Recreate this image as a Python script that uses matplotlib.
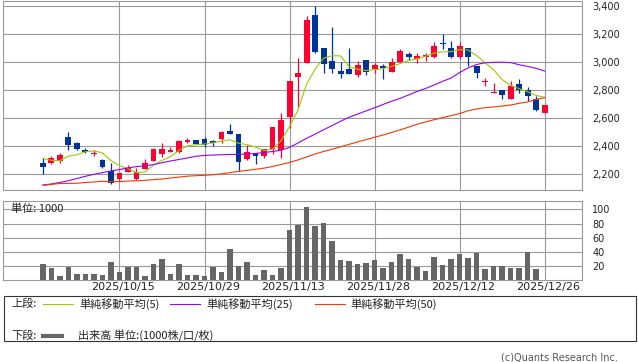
import matplotlib
matplotlib.use("Agg")
import matplotlib.pyplot as plt
import matplotlib.transforms as mtransforms
from matplotlib.patches import Rectangle
from matplotlib.lines import Line2D
import numpy as np

# daily candles, 2025/10/01 .. 2025/12/26
opens = [2279, 2282, 2291, 2464, 2421, 2371, 2345, 2300, 2224, 2164,
         2214, 2164, 2238, 2295, 2343, 2359, 2359, 2431, 2443, 2450,
         2434, 2448, 2507, 2486, 2305, 2350, 2331, 2376, 2374, 2609,
         2893, 2991, 3336, 3100, 3007, 2936, 2950, 2907, 3012, 2950,
         2971, 2931, 3000, 3057, 3019, 3034, 3036, 3138, 3098, 3038,
         3098, 2974, 2857, 2779, 2800, 2738, 2841, 2800, 2733, 2638]
highs = [2314, 2329, 2352, 2498, 2431, 2386, 2371, 2307, 2281, 2208,
         2266, 2241, 2305, 2382, 2419, 2393, 2443, 2457, 2445, 2464,
         2443, 2507, 2557, 2486, 2405, 2350, 2376, 2538, 2634, 2864,
         3029, 3331, 3402, 3100, 3252, 3002, 3098, 3007, 3012, 2991,
         2988, 3031, 3093, 3074, 3067, 3062, 3145, 3202, 3152, 3145,
         3098, 2974, 2883, 2848, 2800, 2864, 2879, 2819, 2757, 2693]
lows = [2200, 2275, 2276, 2371, 2371, 2348, 2331, 2245, 2129, 2160,
        2212, 2157, 2236, 2292, 2324, 2355, 2352, 2424, 2412, 2393,
        2402, 2419, 2488, 2221, 2302, 2274, 2316, 2343, 2312, 2526,
        2681, 2991, 3062, 2924, 2924, 2888, 2917, 2895, 2907, 2924,
        2879, 2931, 3000, 3014, 2991, 3009, 3031, 3091, 3031, 3021,
        2974, 2888, 2829, 2776, 2734, 2738, 2776, 2724, 2652, 2638]
closes = [2250, 2318, 2334, 2409, 2381, 2355, 2352, 2252, 2138, 2205,
          2241, 2214, 2279, 2379, 2379, 2371, 2436, 2443, 2414, 2405,
          2419, 2500, 2488, 2288, 2357, 2331, 2376, 2538, 2586, 2864,
          2921, 3300, 3069, 2983, 2950, 2917, 2917, 2979, 2931, 2979,
          2957, 3000, 3079, 3036, 3043, 3048, 3114, 3126, 3038, 3114,
          3038, 2919, 2867, 2788, 2764, 2829, 2800, 2760, 2657, 2693]

ma5 = [2312, 2298, 2295, 2328, 2338, 2359, 2366, 2350, 2296, 2260,
       2238, 2210, 2215, 2264, 2298, 2324, 2369, 2402, 2409, 2414,
       2423, 2436, 2445, 2420, 2410, 2393, 2368, 2378, 2438, 2539,
       2657, 2842, 2948, 3027, 3045, 3044, 2967, 2949, 2939, 2945,
       2953, 2969, 2989, 3010, 3023, 3041, 3064, 3073, 3074, 3088,
       3086, 3047, 2995, 2945, 2875, 2833, 2810, 2788, 2762, 2748]
ma25 = [2122, 2129, 2140, 2153, 2168, 2184, 2198, 2210, 2222, 2232,
        2244, 2253, 2259, 2267, 2281, 2293, 2304, 2315, 2327, 2333,
        2336, 2338, 2340, 2341, 2343, 2347, 2354, 2361, 2370, 2390,
        2422, 2455, 2485, 2516, 2546, 2577, 2606, 2628, 2651, 2673,
        2697, 2720, 2740, 2765, 2790, 2811, 2836, 2862, 2886, 2925,
        2958, 2982, 2995, 2998, 2999, 2996, 2981, 2969, 2955, 2936]
ma50 = [2119, 2126, 2133, 2133, 2134, 2140, 2143, 2148, 2146, 2146,
        2150, 2152, 2155, 2160, 2164, 2172, 2178, 2185, 2188, 2191,
        2195, 2201, 2210, 2219, 2226, 2234, 2242, 2254, 2268, 2283,
        2301, 2322, 2343, 2361, 2377, 2394, 2412, 2429, 2446, 2462,
        2479, 2497, 2515, 2535, 2556, 2572, 2588, 2603, 2617, 2632,
        2652, 2665, 2674, 2679, 2686, 2693, 2705, 2715, 2733, 2745]

# volume in 1000s (no bar on the last day)
volume = [22.7, 17.5, 5.7, 19, 8.5, 8.5, 8.5, 7, 25.5, 11.3,
          19, 19, 5.7, 22.7, 29.8, 8.5, 22.7, 7, 7, 5.7,
          19, 11.3, 44, 19.9, 25.5, 7, 14.2, 7, 17.5, 71.4,
          78, 103.5, 76.6, 80.9, 55.3, 28.4, 27, 22.7, 24.1, 28.4,
          17.5, 25.5, 36.9, 29.8, 19, 12.8, 32.6, 21.3, 29.8, 36.9,
          31.2, 38.3, 15.6, 19.9, 19.9, 17, 17, 39.7, 15.6]

date_ticks = [9, 19, 29, 39, 49, 59]
date_labels = ["2025/10/15", "2025/10/29", "2025/11/13",
               "2025/11/28", "2025/12/12", "2025/12/26"]
price_ticks = [2200, 2400, 2600, 2800, 3000, 3200, 3400]
vol_ticks = [20, 40, 60, 80, 100]

UP = "#ff0033"
DOWN = "#003399"
GRID = "#999999"
JP = ["Noto Sans CJK JP", "DejaVu Sans"]

W, H = 638, 362
fig = plt.figure(figsize=(W / 100, H / 100), dpi=100)


def box(x0, y0, x1, y1):
    # pixel box (from top-left) -> figure fraction rect
    return [x0 / W, 1 - y1 / H, (x1 - x0) / W, (y1 - y0) / H]


ax = fig.add_axes(box(3, 1, 582, 190))
axv = fig.add_axes(box(3, 201, 582, 280))

x = np.arange(len(closes))
o = np.array(opens)
c = np.array(closes)
colors = [UP if cc >= oo else DOWN for oo, cc in zip(o, c)]

# candles
ax.vlines(x, lows, highs, colors=colors, linewidth=0.9, zorder=3)
body = np.maximum(np.abs(c - o), 3)
ax.bar(x, body, bottom=np.minimum(o, c), width=0.7, color=colors,
       linewidth=0, zorder=3)

ax.plot(x, ma5, color="#99cc00", linewidth=0.8, zorder=4)
ax.plot(x, ma25, color="#9900ff", linewidth=0.8, zorder=4)
ax.plot(x, ma50, color="#ff3300", linewidth=0.8, zorder=5)

axv.bar(np.arange(len(volume)), volume, width=0.67, color="#666666",
        linewidth=0, zorder=3)

for a in (ax, axv):
    a.set_xlim(-4.7, 63.4)
    a.set_xticks(date_ticks)
    a.grid(True, color=GRID, linewidth=0.8, zorder=0)
    a.set_axisbelow(True)
    for s in a.spines.values():
        s.set_color(GRID)
        s.set_linewidth(0.8)
    a.yaxis.tick_right()
    a.tick_params(axis="y", length=0, pad=7.5, labelsize=7, labelcolor="#222222")
    a.tick_params(axis="x", length=0)

ax.set_ylim(2086, 3436)
ax.set_yticks(price_ticks)
ax.set_yticklabels([f"{v:,}" for v in price_ticks])
ax.set_xticklabels([])

axv.set_ylim(0, 112)
axv.set_yticks(vol_ticks)
axv.set_xticklabels(date_labels)
axv.tick_params(axis="x", pad=1.5, labelsize=8, labelcolor="#222222")
shift = mtransforms.ScaledTranslation(3.5 / 100, 0, fig.dpi_scale_trans)
for lab in axv.get_xticklabels():
    lab.set_transform(lab.get_transform() + shift)

axv.text(8 / 579, 1 - 8 / 79, "単位: 1000", transform=axv.transAxes,
         fontsize=8, family=JP, va="center", ha="left", color="#222222")

# legend box at the bottom
fig.add_artist(Rectangle((4 / W, 1 - 341 / H), 632 / W, 45 / H,
                         transform=fig.transFigure, fill=False,
                         edgecolor="#333333", linewidth=0.8))


def ftext(px, py, s, **kw):
    fig.text(px / W, 1 - py / H, s, va="center", ha="left", color="#222222", **kw)


def fline(x0, x1, py, color, lw):
    fig.add_artist(Line2D([x0 / W, x1 / W], [1 - py / H] * 2,
                          transform=fig.transFigure, color=color, linewidth=lw))


row1, row2 = 304, 336
ftext(11, row1, "上段:", fontsize=8, family=JP)
fline(43, 73, row1, "#99cc00", 0.8)
ftext(79, row1, "単純移動平均(5)", fontsize=8, family=JP)
fline(170, 200, row1, "#9900ff", 0.8)
ftext(206, row1, "単純移動平均(25)", fontsize=8, family=JP)
fline(315, 345, row1, "#ff3300", 0.8)
ftext(350, row1, "単純移動平均(50)", fontsize=8, family=JP)

ftext(11, row2, "下段:", fontsize=8, family=JP)
fline(43, 62, row2, "#666666", 3)
ftext(78, row2, "出来高 単位:(1000株/口/枚)", fontsize=8, family=JP)

fig.text(618 / W, 1 - 357 / H, "(c)Quants Research Inc.", fontsize=7,
         color="#555555", ha="right", va="center")

fig.savefig("out.png", dpi=100)
